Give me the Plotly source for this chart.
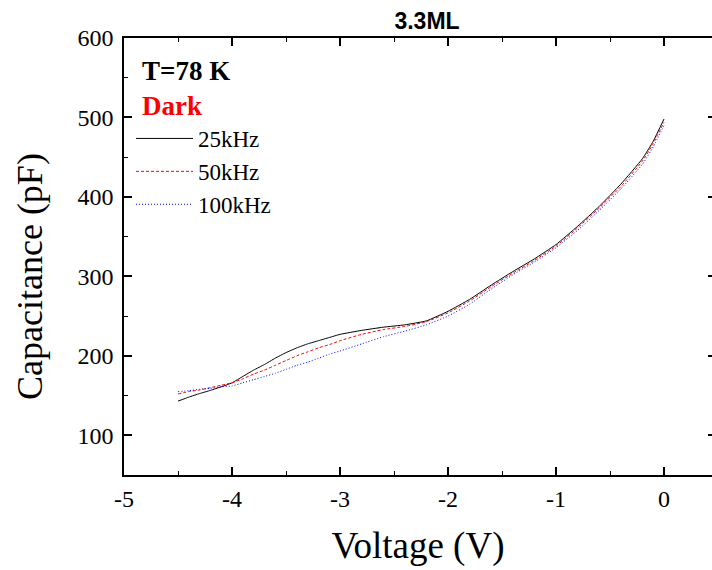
import plotly.graph_objects as go

voltage = [-4.5, -4.4, -4.3, -4.2, -4.1, -4.0, -3.9, -3.8, -3.7, -3.6, -3.5, -3.4, -3.3, -3.2,
           -3.1, -3.0, -2.8, -2.6, -2.4, -2.2, -2.0, -1.8, -1.6, -1.4, -1.2, -1.0, -0.8, -0.6,
           -0.4, -0.2, -0.1, 0.0]
c_25khz = [143, 148, 152.5, 156.5, 161, 166, 174, 182, 189, 197, 204, 210, 215, 219,
           223, 227, 232, 236, 239, 244, 256, 271, 289, 306, 322, 340, 363, 388,
           416, 448, 470, 498]
c_50khz = [152, 155, 157, 160, 163, 166, 171, 177, 182, 188, 194, 200, 205, 210,
           214, 219, 227, 233, 237, 243, 254, 269, 287, 304, 320, 338, 361, 386,
           413, 445, 467, 494]
c_100khz = [155, 156, 158, 159, 161, 162, 166, 170, 174, 178, 183, 188, 192, 197,
            202, 206, 215, 224, 231, 239, 250, 265, 284, 302, 318, 336, 358, 383,
            410, 441, 463, 490]

x_tickvals = [-5, -4, -3, -2, -1, 0]
x_ticktext = ["-5", "-4", "-3", "-2", "-1", "0"]
y_tickvals = [100, 200, 300, 400, 500, 600]
y_ticktext = ["100", "200", "300", "400", "500", "600"]

series = [
    ("25kHz", c_25khz, "black", "solid"),
    ("50kHz", c_50khz, "#ff0000", "3px,2px"),
    ("100kHz", c_100khz, "#0000ff", "1px,2px"),
]

W, H = 712, 570
fig = go.Figure()
for i, (name, vals, col, dash) in enumerate(series):
    fig.add_trace(go.Scatter(x=voltage, y=vals, mode="lines", name=name,
                             line=dict(color=col, width=1, dash=dash, shape="spline", smoothing=0.4)))

# transparent copy on the right-hand axis so its tick marks are drawn
fig.add_trace(go.Scatter(x=voltage, y=c_25khz, yaxis="y2", mode="lines", showlegend=False,
                         hoverinfo="skip", line=dict(color="rgba(0,0,0,0)", width=0)))

serif = "Times New Roman, Liberation Serif, serif"
fig.update_layout(
    width=W, height=H,
    margin=dict(l=124, r=0, t=38, b=95),
    paper_bgcolor="white", plot_bgcolor="white",
    showlegend=True,
    title=dict(text="<b>3.3ML</b>", x=427 / W, xanchor="center", y=1 - 21 / H, yanchor="middle",
               font=dict(family="Arial, Liberation Sans, sans-serif", size=23, color="black")),
    xaxis=dict(range=[-5, -5 + 588 / 108], showline=True, linecolor="black", linewidth=1.5,
               mirror="ticks", ticks="inside", ticklen=8, tickcolor="black", tickwidth=1.5,
               tickmode="array", tickvals=x_tickvals, ticktext=x_ticktext,
               showgrid=False, zeroline=False, ticklabelstandoff=1,
               minor=dict(ticks="inside", ticklen=4, tickmode="linear", dtick=0.5, tick0=-5,
                          tickcolor="black", tickwidth=1.2),
               tickfont=dict(family=serif, size=24, color="black"),
               title=dict(text="Voltage (V)", font=dict(family=serif, size=37, color="black"), standoff=22)),
    yaxis=dict(range=[50, 600], showline=True, linecolor="black", linewidth=1.5,
               ticks="inside", ticklen=8, tickcolor="black", tickwidth=1.5,
               tickmode="array", tickvals=y_tickvals, ticktext=y_ticktext,
               showgrid=False, zeroline=False, ticklabelstandoff=4,
               minor=dict(ticks="inside", ticklen=4, tickmode="linear", dtick=50, tick0=0,
                          tickcolor="black", tickwidth=1.2),
               tickfont=dict(family=serif, size=24, color="black")),
    yaxis2=dict(range=[50, 600], overlaying="y", side="right", anchor="x", showline=False,
                ticks="inside", ticklen=4, tickcolor="black", tickwidth=1.5,
                tickmode="array", tickvals=y_tickvals,
                showticklabels=False, showgrid=False, zeroline=False),
    legend=dict(x=(131 - 124) / 588, y=1 - (117 - 38) / 437, xanchor="left", yanchor="top",
                bgcolor="rgba(0,0,0,0)", borderwidth=0, itemwidth=57, tracegroupgap=0,
                font=dict(family=serif, size=23, color="black")),
    annotations=[
        dict(text="Capacitance (pF)", xref="paper", yref="paper", x=-(124 - 30) / 588,
             y=1 - (277 - 38) / 437, xanchor="center", yanchor="middle", textangle=-90,
             showarrow=False, font=dict(family=serif, size=36, color="black")),
        dict(text="<b>T=78 K</b>", xref="paper", yref="paper", x=(140 - 124) / 588, y=1 - (71 - 38) / 437,
             xanchor="left", yanchor="middle", showarrow=False,
             font=dict(family=serif, size=27, color="black")),
        dict(text="<b>Dark</b>", xref="paper", yref="paper", x=(140 - 124) / 588, y=1 - (106 - 38) / 437,
             xanchor="left", yanchor="middle", showarrow=False,
             font=dict(family=serif, size=27, color="#ff0000")),
    ],
)

fig.write_html("out.html")
